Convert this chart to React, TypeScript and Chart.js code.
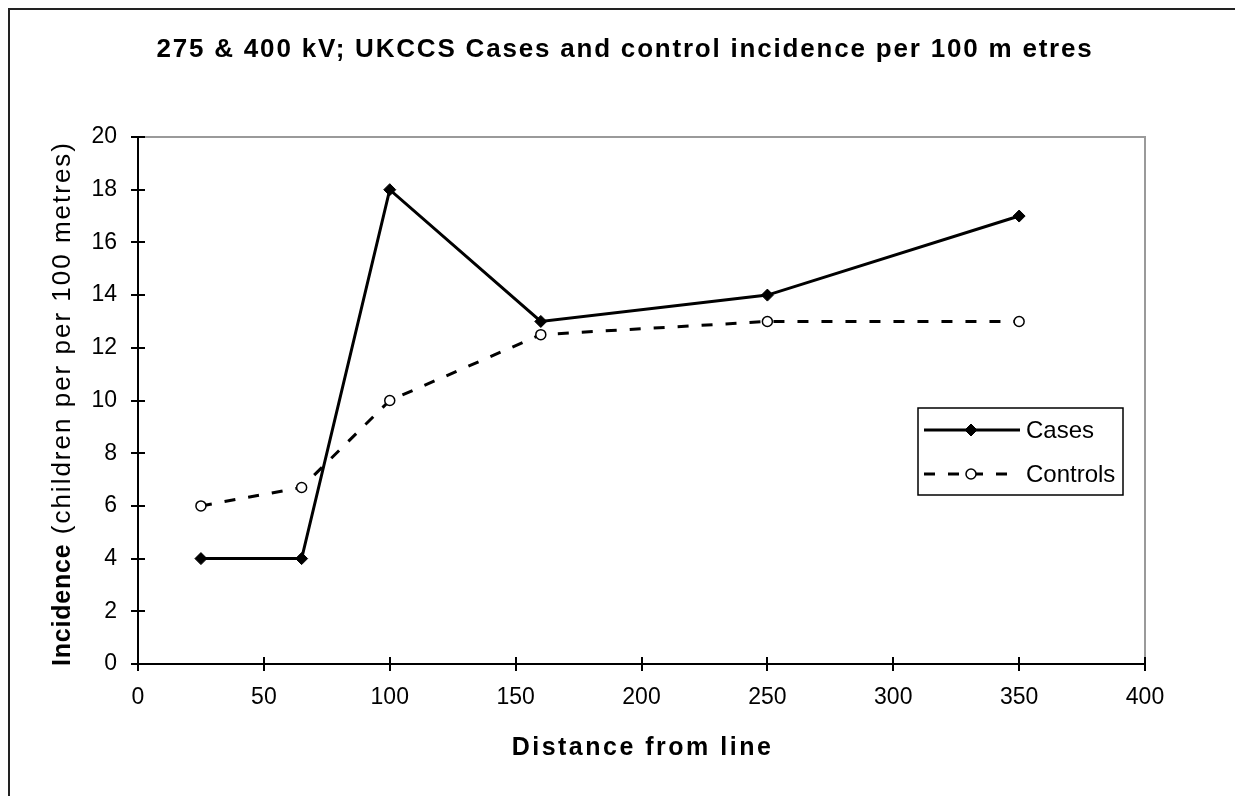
import { useEffect, useRef } from "react";
import { Chart, registerables } from "chart.js";

Chart.register(...registerables);

const distances = [25, 65, 100, 160, 250, 350];
const casesValues = [4, 4, 18, 13, 14, 17];
const controlsValues = [6, 6.7, 10, 12.5, 13, 13];
const seriesNames = ["Cases", "Controls"];
const xRange = [0, 400];
const xStep = 50;
const yRange = [0, 20];
const yStep = 2;
const titleText = "275 & 400 kV; UKCCS Cases and control incidence per 100 m etres";
const xTitleText = "Distance from line";
const yTitleBold = "Incidence";
const yTitleNormal = " (children per per 100 metres)";

const FONT = "'Liberation Sans', Arial, sans-serif";

const decorPlugin = {
  id: "decor",
  beforeDraw(chart: any) {
    const ctx = chart.ctx;
    ctx.save();
    ctx.fillStyle = "#ffffff";
    ctx.fillRect(0, 0, chart.width, chart.height);
    // outer frame (left and top visible)
    ctx.strokeStyle = "#222222";
    ctx.lineWidth = 2;
    ctx.beginPath();
    ctx.moveTo(9, chart.height + 2);
    ctx.lineTo(9, 9);
    ctx.lineTo(chart.width + 2, 9);
    ctx.stroke();
    // plot area top/right grey border
    const a = chart.chartArea;
    ctx.strokeStyle = "#9a9a9a";
    ctx.lineWidth = 2;
    ctx.beginPath();
    ctx.moveTo(a.left, a.top);
    ctx.lineTo(a.right, a.top);
    ctx.lineTo(a.right, a.bottom);
    ctx.stroke();
    ctx.restore();
  },
  afterDraw(chart: any) {
    const ctx = chart.ctx;
    const a = chart.chartArea;
    const xs = chart.scales.x;
    const ys = chart.scales.y;
    ctx.save();
    // crossing tick marks
    ctx.strokeStyle = "#000000";
    ctx.lineWidth = 2;
    ctx.beginPath();
    xs.ticks.forEach((t: any) => {
      const px = Math.round(xs.getPixelForValue(t.value));
      ctx.moveTo(px, a.bottom - 7);
      ctx.lineTo(px, a.bottom + 7);
    });
    ys.ticks.forEach((t: any) => {
      const py = Math.round(ys.getPixelForValue(t.value));
      ctx.moveTo(a.left - 7, py);
      ctx.lineTo(a.left + 7, py);
    });
    ctx.stroke();

    // main title
    ctx.fillStyle = "#000000";
    ctx.textBaseline = "alphabetic";
    ctx.textAlign = "left";
    ctx.font = `bold 26px ${FONT}`;
    (ctx as any).letterSpacing = "1.8px";
    let w = ctx.measureText(titleText).width;
    ctx.fillText(titleText, 625 - w / 2, 57);

    // x axis title
    ctx.font = `bold 25px ${FONT}`;
    (ctx as any).letterSpacing = "2.5px";
    w = ctx.measureText(xTitleText).width;
    ctx.fillText(xTitleText, (a.left + a.right) / 2 + 1 - w / 2, 755);

    // y axis title (mixed fonts)
    ctx.save();
    ctx.translate(70, (a.top + a.bottom) / 2 + 3);
    ctx.rotate(-Math.PI / 2);
    ctx.font = `bold 25px ${FONT}`;
    (ctx as any).letterSpacing = "0.8px";
    const wb = ctx.measureText(yTitleBold).width;
    ctx.font = `26px ${FONT}`;
    (ctx as any).letterSpacing = "2px";
    const wn = ctx.measureText(yTitleNormal).width;
    let sx = -(wb + wn) / 2;
    ctx.font = `bold 25px ${FONT}`;
    (ctx as any).letterSpacing = "0.8px";
    ctx.fillText(yTitleBold, sx, 0);
    ctx.font = `26px ${FONT}`;
    (ctx as any).letterSpacing = "2px";
    ctx.fillText(yTitleNormal, sx + wb, 0);
    ctx.restore();

    // legend
    (ctx as any).letterSpacing = "0px";
    const lx = 918, ly = 408, lw = 205, lh = 87;
    ctx.fillStyle = "#ffffff";
    ctx.fillRect(lx, ly, lw, lh);
    ctx.strokeStyle = "#000000";
    ctx.lineWidth = 1.5;
    ctx.strokeRect(lx, ly, lw, lh);
    const rows = [430, 474];
    chart.data.datasets.forEach((ds: any, i: number) => {
      const yy = rows[i];
      ctx.save();
      ctx.strokeStyle = ds.borderColor;
      ctx.lineWidth = ds.borderWidth;
      ctx.setLineDash(ds.borderDash || []);
      ctx.beginPath();
      ctx.moveTo(924, yy);
      ctx.lineTo(1020, yy);
      ctx.stroke();
      ctx.setLineDash([]);
      ctx.fillStyle = ds.pointBackgroundColor;
      ctx.strokeStyle = ds.pointBorderColor;
      ctx.lineWidth = ds.pointBorderWidth;
      const r = ds.pointRadius;
      ctx.beginPath();
      if (ds.pointStyle === "rectRot") {
        ctx.moveTo(971, yy - r);
        ctx.lineTo(971 + r, yy);
        ctx.lineTo(971, yy + r);
        ctx.lineTo(971 - r, yy);
        ctx.closePath();
      } else {
        ctx.arc(971, yy, r, 0, Math.PI * 2);
      }
      ctx.fill();
      ctx.stroke();
      ctx.restore();
      ctx.fillStyle = "#000000";
      ctx.font = `24px ${FONT}`;
      ctx.textBaseline = "middle";
      ctx.fillText(ds.label, 1026, yy + 1);
    });
    ctx.restore();
  },
};

export default function App() {
  const ref = useRef<HTMLCanvasElement | null>(null);
  useEffect(() => {
    if (!ref.current) return;
    const chart = new Chart(ref.current, {
      type: "line",
      data: {
        datasets: [
          {
            label: seriesNames[0],
            data: distances.map((d, i) => ({ x: d, y: casesValues[i] })),
            borderColor: "#000000",
            borderWidth: 3,
            pointStyle: "rectRot",
            pointRadius: 6,
            pointBackgroundColor: "#000000",
            pointBorderColor: "#000000",
            pointBorderWidth: 1,
            tension: 0,
            fill: false,
          },
          {
            label: seriesNames[1],
            data: distances.map((d, i) => ({ x: d, y: controlsValues[i] })),
            borderColor: "#000000",
            borderWidth: 3,
            borderDash: [11, 13],
            pointStyle: "circle",
            pointRadius: 5,
            pointBackgroundColor: "#ffffff",
            pointBorderColor: "#000000",
            pointBorderWidth: 1.5,
            tension: 0,
            fill: false,
          },
        ],
      },
      options: {
        animation: false,
        responsive: false,
        layout: { padding: { top: 137, left: 0, right: 90, bottom: 0 } },
        plugins: {
          legend: { display: false },
          title: { display: false },
          tooltip: { enabled: false },
        },
        scales: {
          x: {
            type: "linear",
            min: xRange[0],
            max: xRange[1],
            ticks: {
              stepSize: xStep,
              color: "#000000",
              font: { family: FONT, size: 23 },
              padding: 20,
              maxRotation: 0,
            },
            grid: { display: false, drawTicks: false },
            border: { display: true, color: "#000000", width: 2 },
            afterFit: (s: any) => {
              s.height = 132;
            },
          },
          y: {
            type: "linear",
            min: yRange[0],
            max: yRange[1],
            ticks: {
              stepSize: yStep,
              color: "#000000",
              font: { family: FONT, size: 23 },
              padding: 21,
            },
            grid: { display: false, drawTicks: false },
            border: { display: true, color: "#000000", width: 2 },
            afterFit: (s: any) => {
              s.width = 138;
            },
          },
        },
      },
      plugins: [decorPlugin],
    } as any);
    return () => chart.destroy();
  }, []);
  return (
    <canvas
      ref={ref}
      width={1235}
      height={796}
      style={{ position: "absolute", left: 0, top: 0, width: 1235, height: 796 }}
    />
  );
}
